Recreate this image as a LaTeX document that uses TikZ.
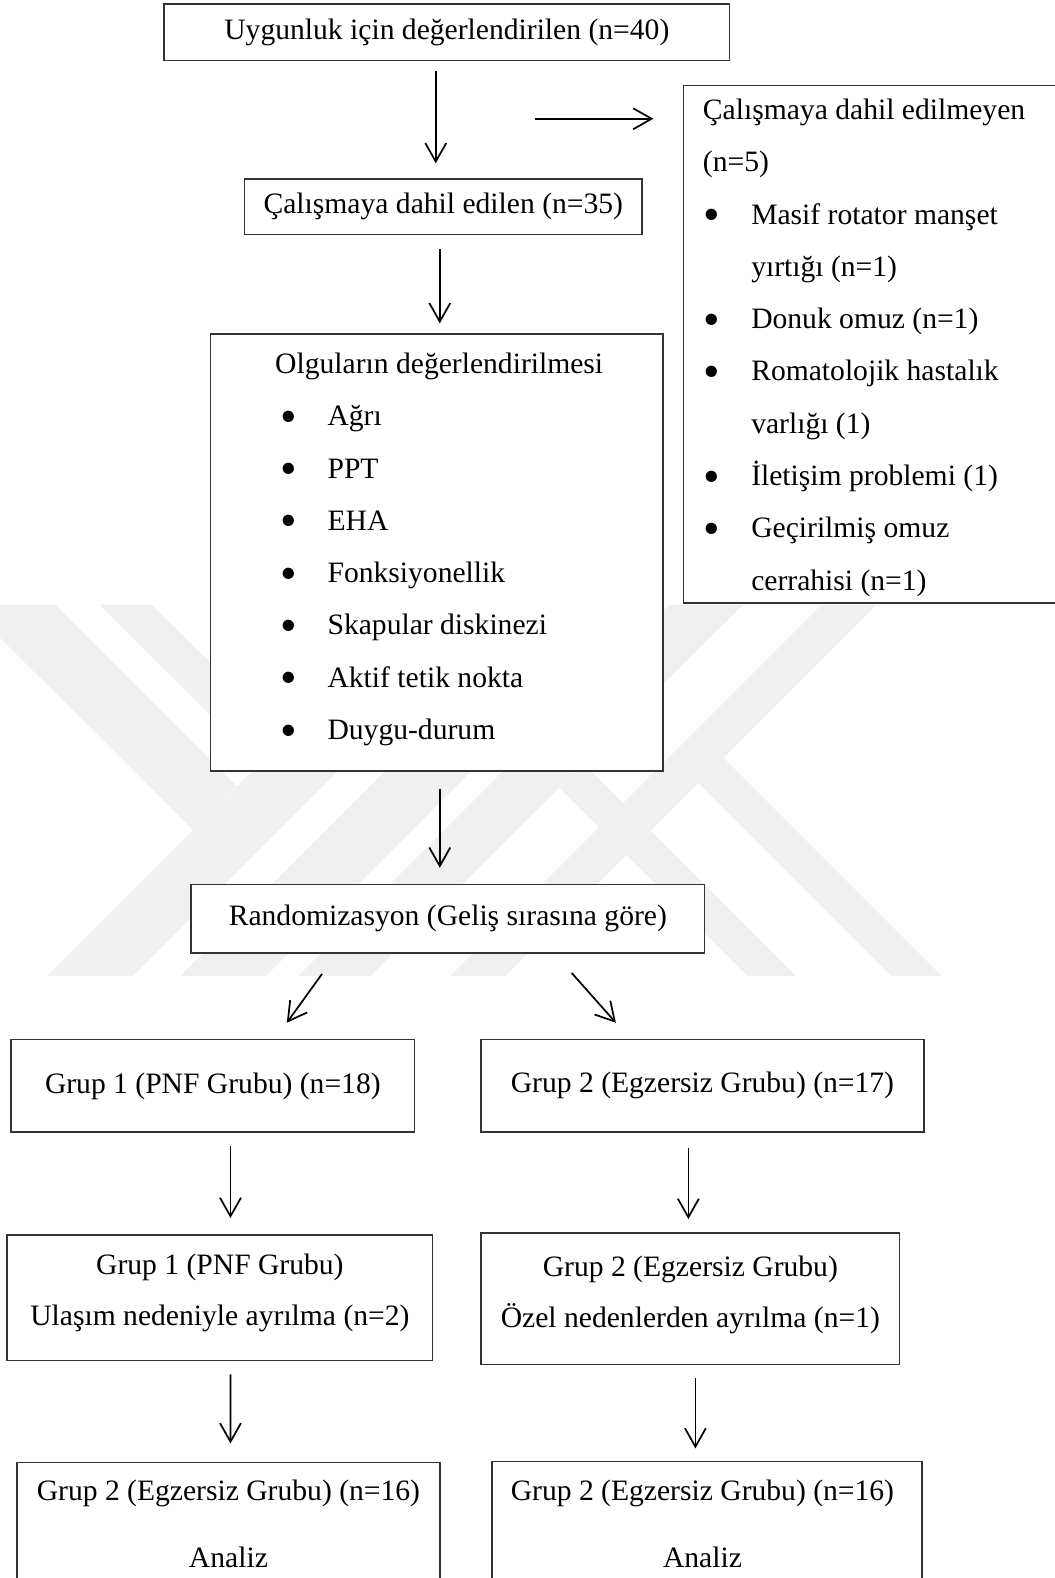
\documentclass[tikz,border=0pt]{standalone}
\usepackage{fontspec}
\usepackage{graphicx}
\setmainfont{Liberation Serif}
\usetikzlibrary{arrows.meta}
\newdimen\birim
\birim=0.408pt
\newcommand{\madde}{\makebox[44\birim][l]{\hspace*{-3\birim}\raisebox{-0.22em}{\scalebox{1.6}{•}}}}

\begin{document}
\begin{tikzpicture}[x=0.408pt, y=-0.408pt,
    font=\fontsize{12}{21.2}\selectfont,
    kutu/.style={draw=black!80, line width=0.6pt, fill=white, inner sep=0pt, align=center},
    yazi/.style={inner sep=0pt, align=flush left},
    orta/.style={inner sep=0pt, align=flush center, font=\fontsize{12}{20.8}\selectfont},
    oku/.style={line width=0.7pt, -{Straight Barb[length=7.5pt,width=8.5pt,line width=0.7pt]}},
    filigran/.style={fill=black!6}]
    \useasboundingbox (0,0) rectangle (1048,1568);
    \fill[filigran] (-33,601) -- (55,601) -- (235,781) -- (192,825) -- cycle;
    \fill[filigran] (99,601) -- (151,601) -- (284,733) -- (258,759) -- cycle;
    \fill[filigran] (47,970) -- (132,970) -- (501,601) -- (416,601) -- cycle;
    \fill[filigran] (179,970) -- (264,970) -- (634,601) -- (548,601) -- cycle;
    \fill[filigran] (296,970) -- (368,970) -- (738,601) -- (665,601) -- cycle;
    \fill[filigran] (447,970) -- (502,970) -- (871,601) -- (816,601) -- cycle;
    \fill[filigran] (694,778) -- (719,753) -- (936,970) -- (886,970) -- cycle;
    \fill[filigran] (580,759) -- (556,783) -- (743,970) -- (791,970) -- cycle;

    \node[kutu, minimum width=562\birim, minimum height=56\birim] (uygun) at (444,32) {Uygunluk için değerlendirilen (n=40)};
    \node[kutu, minimum width=395\birim, minimum height=55\birim] (dahil) at (440.5,205.5) {Çalışmaya dahil edilen (n=35)};
    \node[kutu, minimum width=371\birim, minimum height=514\birim] (haric) at (864.5,342) {};
    \node[kutu, minimum width=450\birim, minimum height=434\birim] (olgu) at (434,549) {};
    \node[kutu, minimum width=510\birim, minimum height=68\birim] (rand) at (445,913) {Randomizasyon (Geliş sırasına göre)};
    \node[kutu, minimum width=401\birim, minimum height=92\birim] (g1) at (211.5,1079) {Grup 1 (PNF Grubu) (n=18)};
    \node[kutu, minimum width=440\birim, minimum height=92\birim] (g2) at (698,1079) {Grup 2 (Egzersiz Grubu) (n=17)};
    \node[kutu, minimum width=423\birim, minimum height=125\birim] (ayr1) at (218.5,1289.5) {};
    \node[kutu, minimum width=416\birim, minimum height=131\birim] (ayr2) at (686,1290.5) {};
    \node[kutu, minimum width=420\birim, minimum height=160\birim] (analiz1) at (227,1533) {};
    \node[kutu, minimum width=427\birim, minimum height=160\birim] (analiz2) at (702.5,1532) {};

    \node[yazi, anchor=west, text width=340\birim] (haricT) at (698,345.5) {Çalışmaya dahil edilmeyen\\
        (n=5)\\
        \hspace*{4\birim}\madde Masif rotator manşet\\
        \hspace*{48\birim}yırtığı (n=1)\\
        \hspace*{4\birim}\madde Donuk omuz (n=1)\\
        \hspace*{4\birim}\madde Romatolojik hastalık\\
        \hspace*{48\birim}varlığı (1)\\
        \hspace*{4\birim}\madde İletişim problemi (1)\\
        \hspace*{4\birim}\madde Geçirilmiş omuz\\
        \hspace*{48\birim}cerrahisi (n=1)};
    \node[yazi, anchor=west, text width=450\birim] (olguT) at (209,546) {\hspace*{64\birim}Olguların değerlendirilmesi\\
        \hspace*{72\birim}\madde Ağrı\\
        \hspace*{72\birim}\madde PPT\\
        \hspace*{72\birim}\madde EHA\\
        \hspace*{72\birim}\madde Fonksiyonellik\\
        \hspace*{72\birim}\madde Skapular diskinezi\\
        \hspace*{72\birim}\madde Aktif tetik nokta\\
        \hspace*{72\birim}\madde Duygu-durum};
    \node[orta, text width=423\birim] (ayr1T) at (218.5,1284.5) {Grup 1 (PNF Grubu)\\Ulaşım nedeniyle ayrılma (n=2)};
    \node[orta, text width=416\birim] (ayr2T) at (686,1286.5) {Grup 2 (Egzersiz Grubu)\\Özel nedenlerden ayrılma (n=1)};
    \node[orta, text width=420\birim] (analiz1T) at (227,1514.5) {Grup 2 (Egzersiz Grubu) (n=16)\\[6.5pt]Analiz};
    \node[orta, text width=420\birim] (analiz2T) at (698,1514.5) {Grup 2 (Egzersiz Grubu) (n=16)\\[6.5pt]Analiz};

    \coordinate (ayrim) at (532,118);
    \draw[oku, shorten <=10\birim, shorten >=15\birim] ([xshift=-11\birim]uygun.south) -- ([xshift=-7.5\birim]dahil.north);
    \draw[oku, shorten >=29\birim] (ayrim) -- (ayrim -| haric.west);
    \draw[oku, shorten <=14\birim, shorten >=10\birim] ([xshift=-3.5\birim]dahil.south) -- ([xshift=3\birim]olgu.north);
    \draw[oku, shorten <=17\birim, shorten >=16\birim] ([xshift=3\birim]olgu.south) -- ([xshift=-8\birim]rand.north);
    \draw[oku] ([xshift=-125\birim, yshift=-20\birim]rand.south) -- ([xshift=73.5\birim, yshift=16\birim]g1.north);
    \draw[oku] ([xshift=123\birim, yshift=-19\birim]rand.south) -- ([xshift=-86\birim, yshift=16\birim]g2.north);
    \draw[oku, shorten <=13\birim, shorten >=16\birim] ([xshift=17.5\birim]g1.south) -- ([xshift=10.5\birim]ayr1.north);
    \draw[oku, shorten <=15\birim, shorten >=13\birim] ([xshift=-14\birim]g2.south) -- ([xshift=-2\birim]ayr2.north);
    \draw[oku, shorten <=13\birim, shorten >=18\birim] ([xshift=10.5\birim]ayr1.south) -- ([xshift=2\birim]analiz1.north);
    \draw[oku, shorten <=13\birim, shorten >=12\birim] ([xshift=5\birim]ayr2.south) -- ([xshift=-11.5\birim]analiz2.north);
\end{tikzpicture}
\end{document}
